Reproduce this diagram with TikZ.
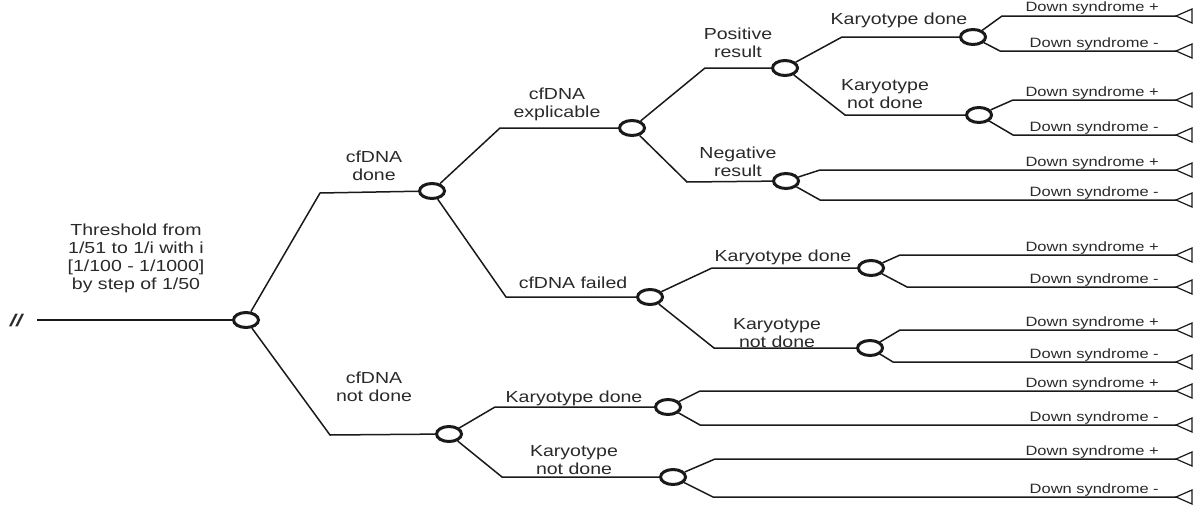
\documentclass[tikz,border=0pt]{standalone}
\usepackage{fontspec}
\setmainfont{Liberation Sans}
\usetikzlibrary{shapes.geometric}
\definecolor{ink}{HTML}{1A1A1A}
\definecolor{txt}{HTML}{2A2A2A}
\tikzset{
  chance/.style={ellipse, draw=ink, line width=3pt, fill=white, minimum width=25pt, minimum height=15pt, inner sep=0pt},
  branch/.style={draw=ink, line width=1.5pt, line join=miter},
  tri/.style={draw=ink, line width=1.2pt, fill=white},
  lab/.style={font=\fontsize{16}{18}\selectfont, text=txt, align=center, xscale=1.22, inner sep=0pt},
  dlab/.style={font=\fontsize{13.5}{15}\selectfont, text=txt, xscale=1.22, inner sep=0pt, anchor=base east},
}
\begin{document}
\begin{tikzpicture}[x=1pt,y=-1pt]
\useasboundingbox (0,0) rectangle (1200,506);
\fill[white] (0,0) rectangle (1200,506);

% root
\node[font=\bfseries\itshape\fontsize{17}{19}\selectfont, text=txt, inner sep=0pt, xscale=1.3] (slash) at (16,321) {//};
\coordinate (s0) at (37,320);

% chance nodes
\node[chance] (c0) at (246,320) {};
\node[chance] (c1) at (432,191) {};
\node[chance] (c2) at (449,434) {};
\node[chance] (c3) at (632,128) {};
\node[chance] (c4) at (650,297) {};
\node[chance] (c5) at (785,68) {};
\node[chance] (c6) at (786,181) {};
\node[chance] (c7) at (973,37) {};
\node[chance] (c8) at (979,115) {};
\node[chance] (c9) at (871,268) {};
\node[chance] (c10) at (870,348) {};
\node[chance] (c11) at (668,407) {};
\node[chance] (c12) at (673,477) {};

% corners
\coordinate (k1) at (320,193);
\coordinate (k2) at (330,435);
\coordinate (k3) at (500,128);
\coordinate (k4) at (506,297);
\coordinate (k5) at (705,68);
\coordinate (k6) at (687,182);
\coordinate (k7) at (842,37);
\coordinate (k8) at (845,115);
\coordinate (k9) at (712,268);
\coordinate (k10) at (714,348);
\coordinate (k11) at (495,407);
\coordinate (k12) at (502,477);

\draw[branch] (s0) -- (c0);
\draw[branch] (c0) -- (k1) -- (c1);
\draw[branch] (c0) -- (k2) -- (c2);
\draw[branch] (c1) -- (k3) -- (c3);
\draw[branch] (c1) -- (k4) -- (c4);
\draw[branch] (c3) -- (k5) -- (c5);
\draw[branch] (c3) -- (k6) -- (c6);
\draw[branch] (c5) -- (k7) -- (c7);
\draw[branch] (c5) -- (k8) -- (c8);
\draw[branch] (c4) -- (k9) -- (c9);
\draw[branch] (c4) -- (k10) -- (c10);
\draw[branch] (c2) -- (k11) -- (c11);
\draw[branch] (c2) -- (k12) -- (c12);

% terminal branches
\foreach \c/\kx/\ky/\n in {c7/1002/16/1, c7/1000/51/2, c8/1013/100/3, c8/1013/135/4,
                          c6/820/170/5, c6/820/200/6, c9/900/255/7, c9/907/287/8,
                          c10/900/330/9, c10/893/362/10, c11/700/391/11, c11/700/425/12,
                          c12/715/459/13, c12/713/497/14}{
  \coordinate (tk\n) at (\kx,\ky);
  \coordinate (e\n) at (1176,\ky);
  \draw[branch] (\c) -- (tk\n) -- (e\n);
  \draw[tri] (e\n) -- ++(16,-7) -- ++(0,14) -- cycle;
}

% terminal labels
\foreach \y/\s/\n in {16/+/1, 51/-/2, 100/+/3, 135/-/4, 170/+/5, 200/-/6, 255/+/7, 287/-/8,
                      330/+/9, 362/-/10, 391/+/11, 425/-/12, 459/+/13, 497/-/14}{
  \node[dlab] (d\n) at (1159,\y-4) {Down syndrome \s};
}

% branch labels
\node[lab] (lthr) at (136,258) {Threshold from\\1/51 to 1/i with i\\{[1/100 - 1/1000]}\\by step of 1/50};
\node[lab] (l1) at (374,166) {cfDNA\\done};
\node[lab] (l2) at (374,387) {cfDNA\\not done};
\node[lab] (l3) at (557,104) {cfDNA\\explicable};
\node[lab] (l4) at (573,283) {cfDNA failed};
\node[lab] (l5) at (738,43) {Positive\\result};
\node[lab] (l6) at (738,162) {Negative\\result};
\node[lab] (l7) at (899,20) {Karyotype done};
\node[lab] (l8) at (885,94) {Karyotype\\not done};
\node[lab] (l9) at (783,257) {Karyotype done};
\node[lab] (l10) at (777,333) {Karyotype\\not done};
\node[lab] (l11) at (574,398) {Karyotype done};
\node[lab] (l12) at (574,460) {Karyotype\\not done};
\end{tikzpicture}
\end{document}
